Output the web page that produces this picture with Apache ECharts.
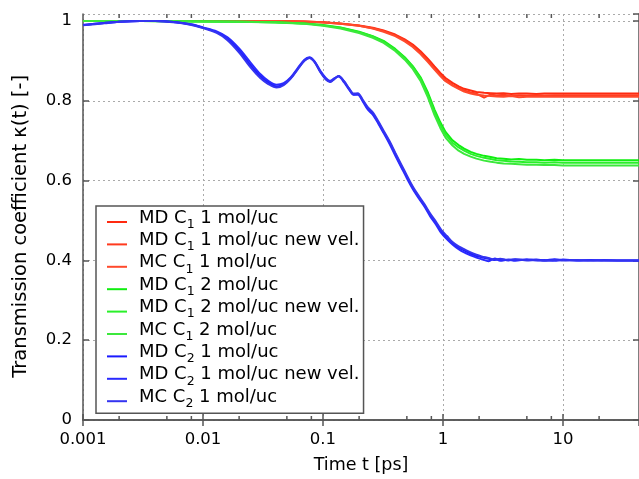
<!DOCTYPE html>
<html>
<head>
<meta charset="utf-8">
<script src="https://cdn.jsdelivr.net/npm/echarts@6/dist/echarts.min.js"></script>
<style>
  html, body { margin: 0; background: #fff; }
  #chart { width: 639px; height: 479px; }
</style>
</head>
<body>
<div id="chart"></div>
<script>
// time grids [ps]
const tC = [0.001, 0.003, 0.01, 0.02, 0.04, 0.07, 0.1, 0.14, 0.2, 0.26, 0.32, 0.4, 0.48, 0.56, 0.65, 0.75, 0.85, 0.95, 1.05, 1.2,
  1.35, 1.5, 1.7, 1.9, 2.2, 2.5, 2.8, 3.2, 3.7, 4.3, 5, 6, 7, 8.5, 10, 13, 17, 22, 30, 43];
const tB = [0.001, 0.0015, 0.002, 0.003, 0.004, 0.006, 0.008, 0.01, 0.013, 0.016, 0.02, 0.025, 0.03, 0.035, 0.041, 0.047, 0.054,
  0.062, 0.07, 0.077, 0.085, 0.095, 0.105, 0.115, 0.125, 0.135, 0.15, 0.165, 0.18, 0.195, 0.215, 0.235, 0.26, 0.29, 0.32, 0.36,
  0.4, 0.45, 0.5, 0.56, 0.63, 0.7, 0.78, 0.87, 0.97, 1.08, 1.2, 1.35, 1.5, 1.7, 1.9, 2.1, 2.4, 2.7, 3.0, 3.5, 4, 5, 6, 7, 8.5,
  10, 13, 17, 22, 30, 43];

// C1, 1 mol/uc
const mdC1a = [1.000, 1.000, 1.000, 1.000, 1.000, 0.999, 0.997, 0.994, 0.989, 0.983, 0.976, 0.966, 0.954, 0.941, 0.924, 0.905, 0.886, 0.870, 0.857, 0.845,
  0.836, 0.830, 0.826, 0.822, 0.820, 0.819, 0.818, 0.819, 0.817, 0.818, 0.818, 0.817, 0.818, 0.818, 0.818, 0.818, 0.818, 0.818, 0.818, 0.818];
const mdC1aNew = [1.000, 1.000, 1.000, 1.000, 1.000, 0.999, 0.997, 0.993, 0.988, 0.982, 0.975, 0.964, 0.952, 0.938, 0.920, 0.900, 0.881, 0.865, 0.852, 0.840,
  0.832, 0.826, 0.821, 0.818, 0.808, 0.816, 0.813, 0.815, 0.812, 0.814, 0.813, 0.814, 0.813, 0.814, 0.814, 0.814, 0.814, 0.814, 0.814, 0.814];
const mcC1a = [1.000, 1.000, 1.000, 1.000, 1.000, 0.998, 0.996, 0.993, 0.988, 0.981, 0.973, 0.962, 0.949, 0.935, 0.917, 0.897, 0.878, 0.862, 0.849, 0.838,
  0.830, 0.823, 0.818, 0.815, 0.813, 0.812, 0.811, 0.810, 0.812, 0.809, 0.810, 0.810, 0.811, 0.810, 0.810, 0.810, 0.810, 0.810, 0.810, 0.810];

// C1, 2 mol/uc
const mdC1b = [1.000, 1.000, 0.999, 0.998, 0.997, 0.994, 0.990, 0.984, 0.973, 0.962, 0.950, 0.930, 0.909, 0.887, 0.859, 0.820, 0.778, 0.746, 0.722, 0.701,
  0.689, 0.680, 0.672, 0.667, 0.662, 0.659, 0.656, 0.655, 0.653, 0.654, 0.652, 0.652, 0.651, 0.652, 0.651, 0.651, 0.651, 0.651, 0.651, 0.651];
const mdC1bNew = [1.000, 1.000, 0.999, 0.998, 0.997, 0.994, 0.989, 0.983, 0.972, 0.961, 0.948, 0.928, 0.907, 0.885, 0.856, 0.815, 0.772, 0.740, 0.716, 0.695,
  0.683, 0.675, 0.667, 0.662, 0.657, 0.654, 0.651, 0.650, 0.648, 0.647, 0.646, 0.646, 0.645, 0.646, 0.645, 0.645, 0.645, 0.645, 0.645, 0.645];
const mcC1b = [1.000, 1.000, 0.999, 0.998, 0.996, 0.993, 0.988, 0.981, 0.970, 0.958, 0.945, 0.925, 0.903, 0.880, 0.850, 0.808, 0.764, 0.732, 0.708, 0.688,
  0.675, 0.667, 0.660, 0.655, 0.650, 0.647, 0.645, 0.643, 0.642, 0.641, 0.640, 0.640, 0.639, 0.639, 0.638, 0.638, 0.638, 0.638, 0.638, 0.638];

// C2, 1 mol/uc
const mdC2 = [0.990, 0.995, 0.998, 1.000, 1.000, 0.997, 0.991, 0.983, 0.972, 0.956,
  0.926, 0.889, 0.862, 0.846, 0.836, 0.841, 0.857, 0.881, 0.901, 0.908,
  0.898, 0.873, 0.856, 0.848, 0.856, 0.862, 0.848, 0.830, 0.816, 0.817,
  0.800, 0.782, 0.768, 0.745, 0.722, 0.695, 0.667, 0.636, 0.610, 0.582,
  0.558, 0.538, 0.515, 0.495, 0.472, 0.457, 0.443, 0.432, 0.425, 0.417,
  0.411, 0.408, 0.404, 0.401, 0.403, 0.400, 0.402, 0.401, 0.402, 0.400,
  0.403, 0.401, 0.400, 0.401, 0.400, 0.400, 0.400];
const mdC2New = [0.990, 0.995, 0.998, 1.000, 1.000, 0.997, 0.992, 0.984, 0.974, 0.959,
  0.931, 0.895, 0.867, 0.850, 0.840, 0.844, 0.859, 0.883, 0.903, 0.909,
  0.899, 0.875, 0.858, 0.850, 0.857, 0.861, 0.846, 0.828, 0.815, 0.815,
  0.798, 0.779, 0.765, 0.742, 0.719, 0.691, 0.663, 0.633, 0.606, 0.579,
  0.555, 0.535, 0.511, 0.491, 0.468, 0.453, 0.440, 0.428, 0.420, 0.413,
  0.407, 0.403, 0.398, 0.405, 0.399, 0.402, 0.399, 0.403, 0.400, 0.401,
  0.399, 0.402, 0.400, 0.400, 0.401, 0.400, 0.400];
const mcC2 = [0.989, 0.994, 0.998, 1.000, 1.000, 0.996, 0.990, 0.982, 0.970, 0.952,
  0.921, 0.883, 0.857, 0.842, 0.833, 0.839, 0.856, 0.880, 0.900, 0.907,
  0.897, 0.872, 0.854, 0.847, 0.855, 0.862, 0.849, 0.831, 0.818, 0.819,
  0.802, 0.785, 0.771, 0.748, 0.725, 0.698, 0.670, 0.640, 0.613, 0.585,
  0.561, 0.541, 0.518, 0.498, 0.476, 0.461, 0.446, 0.435, 0.428, 0.420,
  0.414, 0.410, 0.406, 0.402, 0.404, 0.401, 0.403, 0.400, 0.401, 0.399,
  0.401, 0.400, 0.401, 0.400, 0.400, 0.400, 0.400];

// minor ticks on the time axis
const minorTicksX = [0.002, 0.005, 0.008, 0.02, 0.05, 0.08, 0.2, 0.5, 0.8, 2, 5, 8, 20];

const X_MIN = 0.001;
const X_MAX = 43;
const Y_MIN = 0;
const Y_MAX = 1.0175;
const FONT = 'DejaVu Sans';
const AXIS_COLOR = '#555';

const curves = [
  { name: 'MD C1 1 mol/uc', t: tC, v: mdC1a, color: '#ff2a10', smooth: false },
  { name: 'MD C1 1 mol/uc new vel.', t: tC, v: mdC1aNew, color: '#ff3a1e', smooth: false },
  { name: 'MC C1 1 mol/uc', t: tC, v: mcC1a, color: '#ff4a2c', smooth: false },
  { name: 'MD C1 2 mol/uc', t: tC, v: mdC1b, color: '#10ee10', smooth: false },
  { name: 'MD C1 2 mol/uc new vel.', t: tC, v: mdC1bNew, color: '#2af02a', smooth: false },
  { name: 'MC C1 2 mol/uc', t: tC, v: mcC1b, color: '#3ce83c', smooth: false },
  { name: 'MD C2 1 mol/uc', t: tB, v: mdC2, color: '#1a1aff', smooth: 0.3 },
  { name: 'MD C2 1 mol/uc new vel.', t: tB, v: mdC2New, color: '#2a2aff', smooth: 0.3 },
  { name: 'MC C2 1 mol/uc', t: tB, v: mcC2, color: '#3434f0', smooth: 0.3 }
];

const chart = echarts.init(document.getElementById('chart'));

const lineSeries = curves.map(c => ({
  name: c.name,
  type: 'line',
  data: c.t.map((t, i) => [t, c.v[i]]),
  symbol: 'none',
  smooth: c.smooth,
  lineStyle: { color: c.color, width: 2 },
  itemStyle: { color: c.color },
  z: 3
}));

const tickSeries = {
  type: 'custom',
  data: minorTicksX.map(t => [t]),
  encode: { x: 0 },
  silent: true,
  clip: false,
  z: 5,
  renderItem(params, api) {
    const b = api.coord([api.value(0), Y_MIN]);
    const t = api.coord([api.value(0), Y_MAX]);
    const style = { stroke: AXIS_COLOR, lineWidth: 1.5 };
    return {
      type: 'group',
      children: [
        { type: 'line', shape: { x1: b[0], y1: b[1], x2: b[0], y2: b[1] - 4 }, style },
        { type: 'line', shape: { x1: t[0], y1: t[1], x2: t[0], y2: t[1] + 4 }, style }
      ]
    };
  }
};

const grid = { left: 83, right: 0, top: 14, bottom: 59 };

chart.setOption({
  animation: false,
  backgroundColor: '#fff',
  grid,
  legend: {
    orient: 'vertical',
    left: 96,
    top: 206,
    data: curves.map(c => c.name),
    icon: 'rect',
    itemWidth: 20,
    itemHeight: 2,
    itemGap: 0.4,
    padding: [3, 4, 3, 11],
    backgroundColor: '#fff',
    borderColor: AXIS_COLOR,
    borderWidth: 1.5,
    borderRadius: 0,
    formatter(name) {
      const m = name.match(/^(.*C)(\d)(.*)$/);
      return `{a|${m[1]}}{s|${m[2]}}{a|${m[3]}}`;
    },
    textStyle: {
      fontFamily: FONT,
      fontSize: 18,
      color: '#000',
      padding: [0, 0, 0, 7],
      rich: {
        a: { fontFamily: FONT, fontSize: 18, lineHeight: 18, padding: [0, 0, 4, 0], verticalAlign: 'bottom' },
        s: { fontFamily: FONT, fontSize: 12.5, lineHeight: 12, verticalAlign: 'bottom' }
      }
    }
  },
  xAxis: [
    {
      type: 'log',
      logBase: 10,
      min: X_MIN,
      max: X_MAX,
      name: 'Time t [ps]',
      nameLocation: 'middle',
      nameGap: 36,
      nameTextStyle: { fontFamily: FONT, fontSize: 17.5, color: '#000' },
      axisLine: { lineStyle: { color: AXIS_COLOR, width: 1.5 } },
      axisTick: { inside: true, length: 6, lineStyle: { color: AXIS_COLOR, width: 1.5 } },
      axisLabel: { fontFamily: FONT, fontSize: 16.5, color: '#000', margin: 11, showMaxLabel: false },
      splitLine: { show: true, lineStyle: { color: '#aaa', type: [2, 3], width: 1 } }
    },
    {
      type: 'log',
      logBase: 10,
      min: X_MIN,
      max: X_MAX,
      position: 'top',
      axisLine: { lineStyle: { color: AXIS_COLOR, width: 1.5 } },
      axisTick: { inside: true, length: 6, lineStyle: { color: AXIS_COLOR, width: 1.5 } },
      axisLabel: { show: false },
      splitLine: { show: false }
    }
  ],
  yAxis: [
    {
      type: 'value',
      min: Y_MIN,
      max: Y_MAX,
      interval: 0.2,
      // trailing spaces push the rotated title a little down, as in the original
      name: 'Transmission coefficient \u03ba(t) [-]\u00a0\u00a0\u00a0',
      nameLocation: 'middle',
      nameGap: 52,
      nameTextStyle: { fontFamily: FONT, fontSize: 19.5, color: '#000' },
      axisLine: { show: true, lineStyle: { color: AXIS_COLOR, width: 1.5 } },
      axisTick: { show: true, inside: true, length: 6, lineStyle: { color: AXIS_COLOR, width: 1.5 } },
      axisLabel: { fontFamily: FONT, fontSize: 16.5, color: '#000', margin: 11 },
      splitLine: { show: true, lineStyle: { color: '#aaa', type: [2, 3], width: 1 } }
    },
    {
      type: 'value',
      min: Y_MIN,
      max: Y_MAX,
      interval: 0.2,
      position: 'right',
      axisLine: { show: true, lineStyle: { color: AXIS_COLOR, width: 1.5 } },
      axisTick: { show: true, inside: true, length: 6, lineStyle: { color: AXIS_COLOR, width: 1.5 } },
      axisLabel: { show: false },
      splitLine: { show: false }
    }
  ],
  series: [...lineSeries, tickSeries]
});
</script>
</body>
</html>
